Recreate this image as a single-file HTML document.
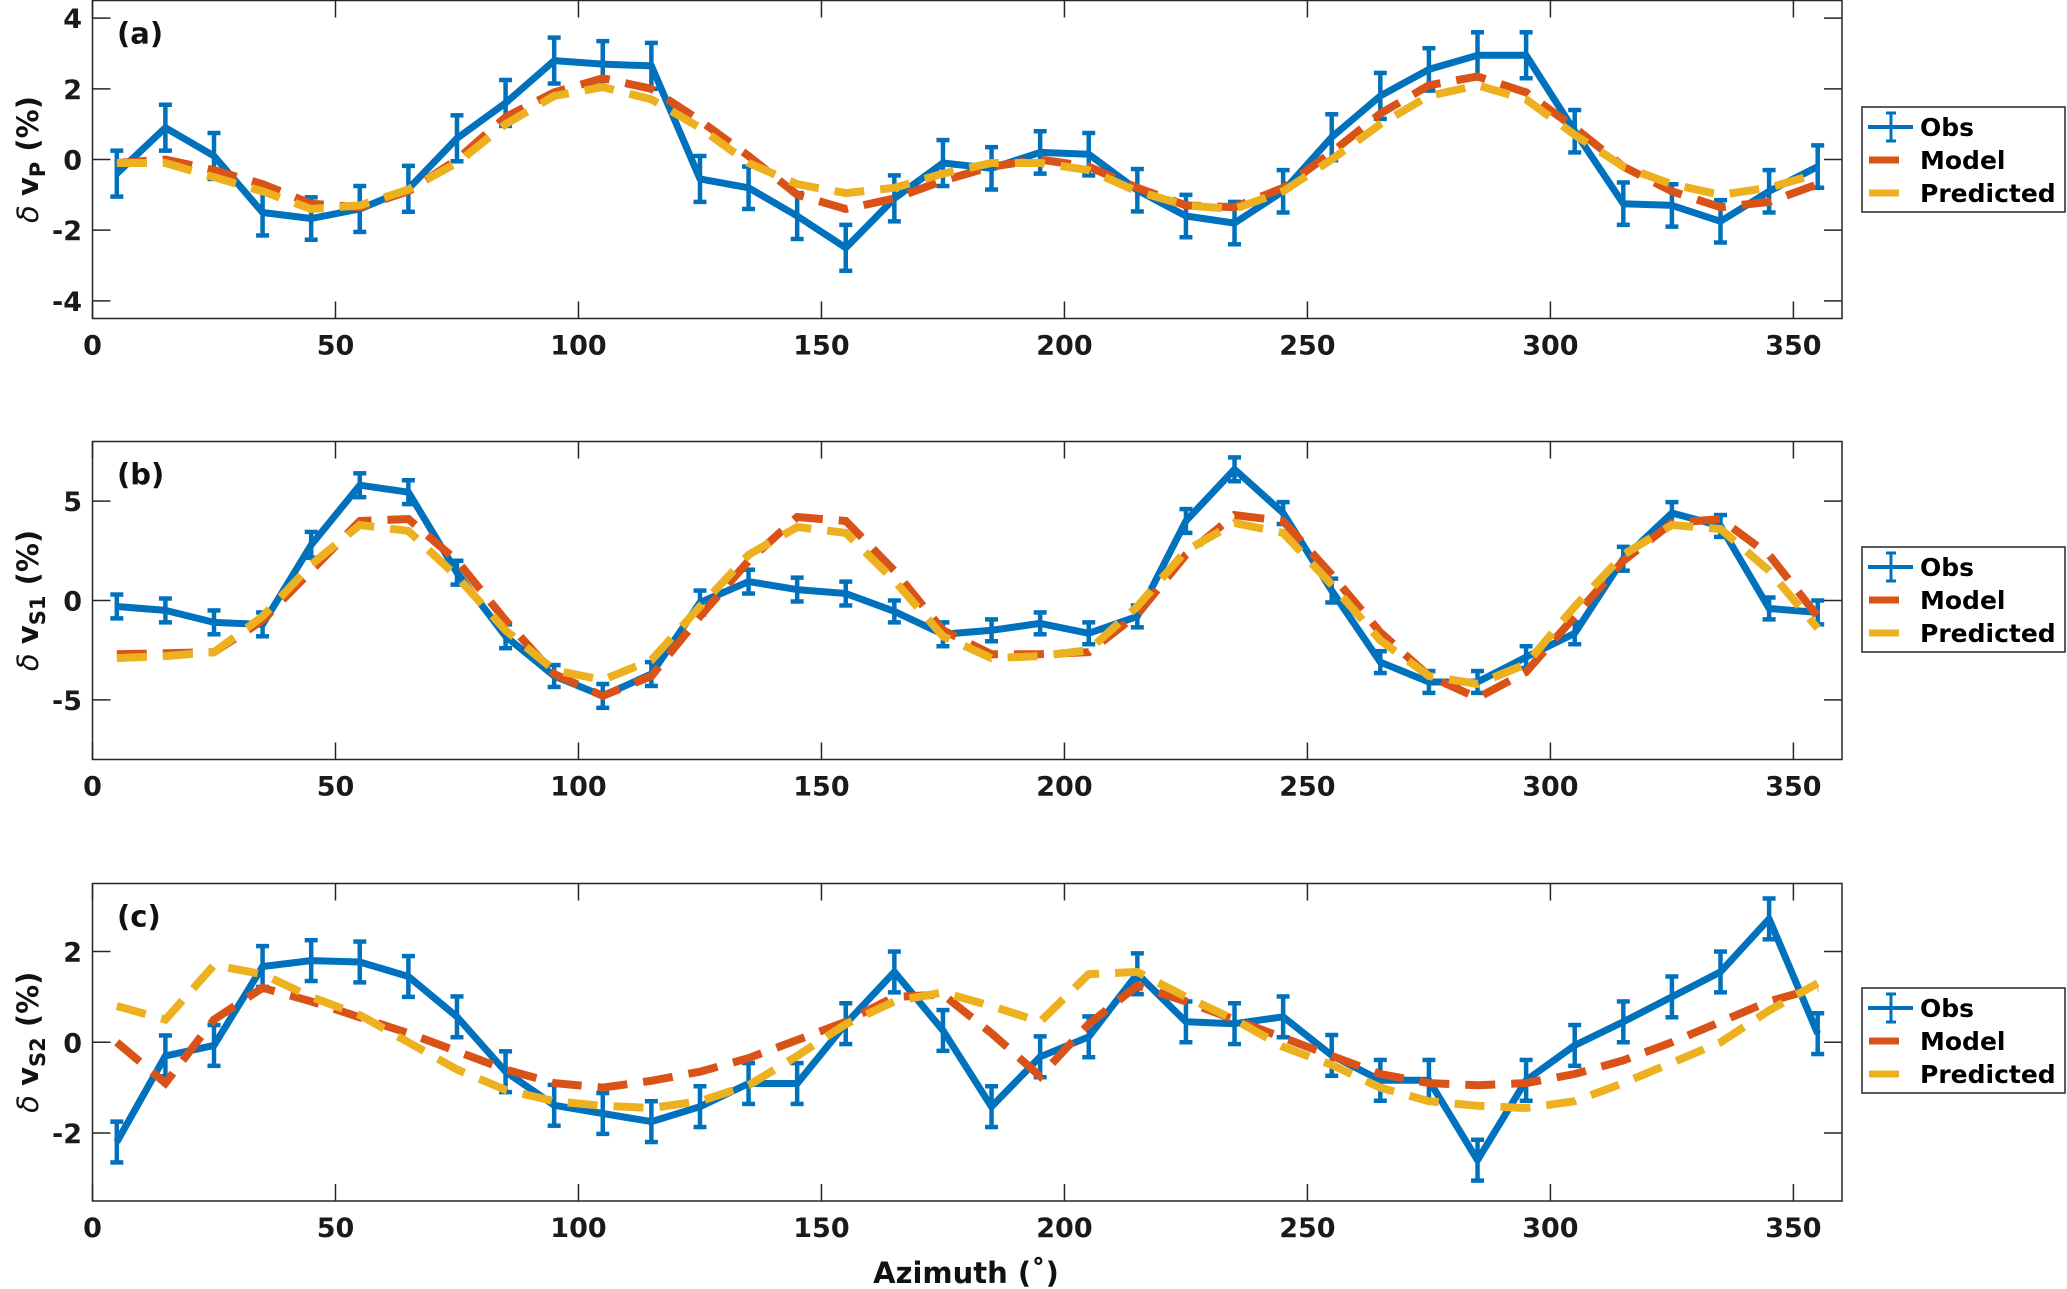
<!DOCTYPE html>
<html><head><meta charset="utf-8">
<style>
html,body{margin:0;padding:0;background:#fff;}
svg{display:block;font-family:"DejaVu Sans","Liberation Sans",sans-serif;font-weight:bold;}
</style></head>
<body>
<svg id="fig" width="2067" height="1289" viewBox="0 0 2067 1289" xmlns="http://www.w3.org/2000/svg"></svg>
<script>
const azimuth = [5,15,25,35,45,55,65,75,85,95,105,115,125,135,145,155,165,175,185,195,205,215,225,235,245,255,265,275,285,295,305,315,325,335,345,355];
const xTicks = [0,50,100,150,200,250,300,350];

const obsA = [-0.4,0.9,0.1,-1.5,-1.67,-1.4,-0.83,0.6,1.6,2.8,2.7,2.65,-0.55,-0.8,-1.6,-2.5,-1.1,-0.1,-0.25,0.2,0.15,-0.87,-1.6,-1.8,-0.9,0.63,1.8,2.55,2.95,2.95,0.8,-1.25,-1.3,-1.75,-0.9,-0.2];
const errA = [0.65,0.65,0.65,0.65,0.6,0.65,0.65,0.65,0.65,0.65,0.65,0.65,0.65,0.6,0.65,0.65,0.65,0.65,0.6,0.6,0.6,0.6,0.6,0.6,0.6,0.65,0.65,0.6,0.65,0.65,0.6,0.6,0.6,0.6,0.6,0.6];
const modelA = [-0.1,0,-0.3,-0.7,-1.25,-1.35,-0.9,0,1.2,1.9,2.3,2.0,1.1,0.1,-1.0,-1.4,-1.1,-0.6,-0.2,0.0,-0.2,-0.8,-1.3,-1.35,-0.8,0.2,1.3,2.1,2.35,1.9,0.9,-0.2,-0.9,-1.35,-1.2,-0.7];
const predA = [-0.1,-0.1,-0.5,-0.9,-1.4,-1.3,-0.85,-0.1,1.0,1.8,2.05,1.7,0.9,-0.1,-0.7,-0.95,-0.8,-0.4,-0.1,-0.1,-0.3,-0.9,-1.3,-1.4,-0.9,0.0,1.0,1.8,2.1,1.7,0.7,-0.2,-0.7,-1.0,-0.8,-0.4];
const yTicksA = [-4,-2,0,2,4];

const obsB = [-0.3,-0.5,-1.1,-1.2,2.8,5.8,5.45,1.4,-1.8,-3.8,-4.8,-3.7,-0.1,0.95,0.55,0.35,-0.55,-1.7,-1.5,-1.15,-1.65,-0.8,4.0,6.6,4.4,0.5,-3.1,-4.1,-4.1,-2.85,-1.65,2.1,4.4,3.75,-0.4,-0.6];
const errB = [0.6,0.6,0.6,0.6,0.65,0.6,0.6,0.6,0.6,0.55,0.6,0.6,0.6,0.6,0.6,0.6,0.55,0.6,0.55,0.55,0.55,0.55,0.6,0.6,0.55,0.6,0.55,0.55,0.55,0.55,0.55,0.6,0.55,0.55,0.55,0.6];
const modelB = [-2.7,-2.65,-2.6,-1.0,1.5,4.0,4.1,2.0,-1.0,-3.7,-4.8,-3.8,-0.8,2.0,4.2,4.0,1.5,-1.5,-2.7,-2.7,-2.6,-0.7,2.3,4.3,4.0,1.3,-1.6,-3.8,-4.9,-3.6,-0.8,2.0,3.9,4.1,2.3,-0.8];
const predB = [-2.9,-2.8,-2.6,-0.8,1.8,3.8,3.5,1.2,-1.5,-3.5,-4.0,-3.0,-0.3,2.3,3.7,3.4,1.0,-1.8,-2.9,-2.8,-2.5,-0.3,2.5,3.9,3.4,0.8,-2.0,-3.8,-4.2,-3.2,-0.3,2.3,3.8,3.6,1.5,-1.4];
const yTicksB = [-5,0,5];

const obsC = [-2.2,-0.3,-0.07,1.67,1.8,1.77,1.45,0.56,-0.65,-1.39,-1.57,-1.75,-1.42,-0.91,-0.91,0.41,1.55,0.26,-1.42,-0.32,0.12,1.51,0.45,0.41,0.56,-0.29,-0.84,-0.84,-2.6,-0.84,-0.07,0.45,1.0,1.55,2.72,0.19];
const errC = [0.45,0.45,0.45,0.45,0.45,0.45,0.45,0.45,0.45,0.45,0.45,0.45,0.45,0.45,0.45,0.45,0.45,0.45,0.45,0.45,0.45,0.45,0.45,0.45,0.45,0.45,0.45,0.45,0.45,0.45,0.45,0.45,0.45,0.45,0.45,0.45];
const modelC = [0.0,-0.9,0.5,1.2,0.9,0.55,0.2,-0.2,-0.6,-0.9,-1.0,-0.85,-0.65,-0.35,0.05,0.45,1.0,1.05,0.2,-0.75,0.4,1.25,0.9,0.5,0.1,-0.3,-0.7,-0.9,-0.95,-0.9,-0.7,-0.4,0.0,0.45,0.9,1.2];
const predC = [0.8,0.5,1.7,1.5,1.0,0.6,0.0,-0.6,-1.05,-1.3,-1.4,-1.45,-1.3,-0.95,-0.3,0.4,0.9,1.1,0.8,0.45,1.5,1.55,1.0,0.5,-0.1,-0.5,-1.0,-1.3,-1.4,-1.45,-1.3,-0.9,-0.45,0.0,0.7,1.3];
const yTicksC = [-2,0,2];

const NS = "http://www.w3.org/2000/svg";
const svg = document.getElementById('fig');
const BLUE = "#0072BD", RED = "#D95319", YEL = "#EDB120", AX = "#262626";
const L = 92.5, R = 1842, XMIN = 0, XMAX = 360;
function xs(v){ return L + (v - XMIN) / (XMAX - XMIN) * (R - L); }
function mk(tag, attrs, parent){ const e = document.createElementNS(NS, tag); for (const k in attrs) e.setAttribute(k, attrs[k]); (parent||svg).appendChild(e); return e; }

const panels = [
  {id:'a', top:0.5, bot:318.5, ymin:-4.5, ymax:4.5, obs:obsA, err:errA, model:modelA, pred:predA, yt:yTicksA, sub:'P', legTop:107},
  {id:'b', top:441.5, bot:759.5, ymin:-8, ymax:8, obs:obsB, err:errB, model:modelB, pred:predB, yt:yTicksB, sub:'S1', legTop:547},
  {id:'c', top:883.5, bot:1201, ymin:-3.5, ymax:3.5, obs:obsC, err:errC, model:modelC, pred:predC, yt:yTicksC, sub:'S2', legTop:988}
];

panels.forEach(p => {
  const ys = v => p.bot - (v - p.ymin) / (p.ymax - p.ymin) * (p.bot - p.top);
  const g = mk('g', {});
  
  
  const clipId = 'clip' + p.id;
  const cp = mk('clipPath', {id: clipId}, g);
  mk('rect', {x:L, y:p.top, width:R-L, height:p.bot-p.top}, cp);

  const box = mk('rect', {x:L, y:p.top, width:R-L, height:p.bot-p.top, fill:'#fff', stroke:AX, 'stroke-width':1.5}, g);
  
  

  xTicks.forEach(t => {
    const x = xs(t);
    mk('line', {x1:x, y1:p.bot, x2:x, y2:p.bot-17, stroke:AX, 'stroke-width':1.5}, g);
    mk('line', {x1:x, y1:p.top, x2:x, y2:p.top+17, stroke:AX, 'stroke-width':1.5}, g);
    const tl = mk('text', {x:x, y:p.bot+36, 'font-size':27, 'text-anchor':'middle', fill:'#1a1a1a'}, g);
    tl.textContent = t;
    
    
  });
  p.yt.forEach(t => {
    const y = ys(t);
    mk('line', {x1:L, y1:y, x2:L+18, y2:y, stroke:AX, 'stroke-width':1.5}, g);
    mk('line', {x1:R, y1:y, x2:R-18, y2:y, stroke:AX, 'stroke-width':1.5}, g);
    const tl = mk('text', {x:82, y:y+10, 'font-size':27, 'text-anchor':'end', fill:'#1a1a1a'}, g);
    tl.textContent = t;
    
    
  });

  const plot = mk('g', {'clip-path':'url(#' + clipId + ')'}, g);
  const ptsStr = arr => arr.map((v,i) => xs(azimuth[i]).toFixed(1) + ',' + ys(v).toFixed(1)).join(' ');

  const eb = mk('g', {stroke:BLUE, 'stroke-width':4.5}, plot);
  
  
  p.obs.forEach((v,i) => {
    const x = xs(azimuth[i]), y1 = ys(v + p.err[i]), y2 = ys(v - p.err[i]);
    mk('line', {x1:x, y1:y1, x2:x, y2:y2}, eb);
    mk('line', {x1:x-6.5, y1:y1, x2:x+6.5, y2:y1}, eb);
    mk('line', {x1:x-6.5, y1:y2, x2:x+6.5, y2:y2}, eb);
  });
  const ol = mk('polyline', {points:ptsStr(p.obs), fill:'none', stroke:BLUE, 'stroke-width':7, 'stroke-linejoin':'round'}, plot);
  
  
  const ml = mk('polyline', {points:ptsStr(p.model), fill:'none', stroke:RED, 'stroke-width':8, 'stroke-dasharray':'30 16'}, plot);
  
  
  const pl = mk('polyline', {points:ptsStr(p.pred), fill:'none', stroke:YEL, 'stroke-width':8, 'stroke-dasharray':'30 16'}, plot);
  
  

  const pt = mk('text', {x:117, y:p.top+43, 'font-size':29, fill:'#111'}, g);
  pt.textContent = '(' + p.id + ')';
  
  

  const cy = (p.top + p.bot) / 2;
  const yl = mk('text', {x:0, y:0, 'font-size':29, 'text-anchor':'middle', fill:'#111', transform:'translate(38,' + cy + ') rotate(-90)'}, g);
  
  
  const t1 = mk('tspan', {'font-weight':'normal', 'font-style':'italic'}, yl); t1.textContent = 'δ ';
  const t2 = mk('tspan', {}, yl); t2.textContent = 'v';
  const t3 = mk('tspan', {'font-size':21, dy:7}, yl); t3.textContent = p.sub;
  const t4 = mk('tspan', {dy:-7}, yl); t4.textContent = ' (%)';

  const lg = mk('g', {}, svg);
  
  
  const T = p.legTop;
  mk('rect', {x:1862, y:T, width:203, height:105, fill:'#fff', stroke:AX, 'stroke-width':1.5}, lg);
  const e1 = mk('g', {}, lg);
  
  
  mk('line', {x1:1868, y1:T+20, x2:1913, y2:T+20, stroke:BLUE, 'stroke-width':4}, e1);
  mk('line', {x1:1891, y1:T+6, x2:1891, y2:T+34, stroke:BLUE, 'stroke-width':3}, e1);
  mk('line', {x1:1886, y1:T+6, x2:1896, y2:T+6, stroke:BLUE, 'stroke-width':3}, e1);
  mk('line', {x1:1886, y1:T+34, x2:1896, y2:T+34, stroke:BLUE, 'stroke-width':3}, e1);
  const tx1 = mk('text', {x:1920, y:T+29, 'font-size':25, fill:'#000'}, e1); tx1.textContent = 'Obs';
  const e2 = mk('g', {}, lg);
  
  
  mk('line', {x1:1869, y1:T+53, x2:1899, y2:T+53, stroke:RED, 'stroke-width':7}, e2);
  const tx2 = mk('text', {x:1920, y:T+62, 'font-size':25, fill:'#000'}, e2); tx2.textContent = 'Model';
  const e3 = mk('g', {}, lg);
  
  
  mk('line', {x1:1869, y1:T+86, x2:1899, y2:T+86, stroke:YEL, 'stroke-width':7}, e3);
  const tx3 = mk('text', {x:1920, y:T+95, 'font-size':25, fill:'#000'}, e3); tx3.textContent = 'Predicted';
});

const xl = mk('text', {x:966, y:1283, 'font-size':29, 'text-anchor':'middle', fill:'#111'});


xl.textContent = 'Azimuth (˚)';
</script>
</body></html>
